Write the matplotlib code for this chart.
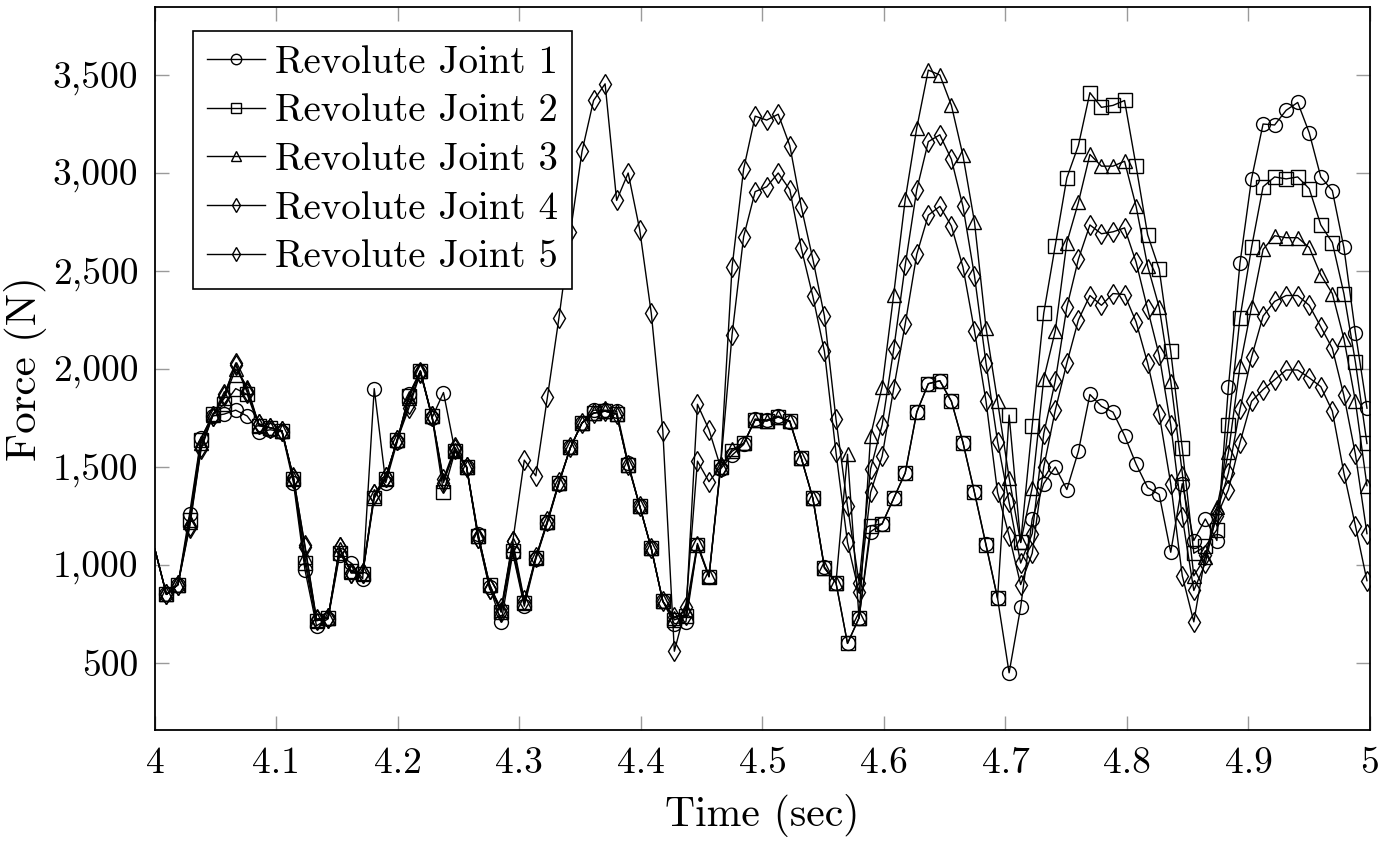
import numpy as np
import matplotlib
matplotlib.use("Agg")
import matplotlib.pyplot as plt

plt.rcParams["font.family"] = "serif"
plt.rcParams["font.serif"] = ["cmr10"]
plt.rcParams["axes.formatter.use_mathtext"] = True

# sample times (s), solver output every 0.0095 s
time = np.round(4.0 + 0.0095 * np.arange(106), 4)

# joint reaction forces (N)
joint1 = [1080, 850, 900, 1260, 1650, 1760, 1770, 1790, 1760, 1680,
          1690, 1680, 1420, 975, 690, 725, 1050, 1010, 930, 1900,
          1420, 1630, 1870, 1990, 1750, 1880, 1580, 1500, 1160, 890,
          710, 1060, 790, 1030, 1215, 1415, 1600, 1725, 1790, 1790,
          1785, 1520, 1300, 1085, 815, 700, 710, 1100, 940, 1490,
          1560, 1615, 1745, 1740, 1760, 1730, 1545, 1340, 990, 910,
          600, 730, 1170, 1210, 1340, 1470, 1780, 1925, 1940, 1835,
          1625, 1370, 1105, 830, 450, 785, 1235, 1415, 1500, 1385,
          1580, 1870, 1810, 1780, 1660, 1515, 1395, 1360, 1065, 1415,
          1125, 1235, 1125, 1910, 2540, 2970, 3250, 3245, 3320, 3360,
          3205, 2980, 2910, 2620, 2185, 1800]
joint2 = [1080, 850, 900, 1230, 1640, 1770, 1820, 1900, 1870, 1710,
          1700, 1685, 1440, 1010, 715, 730, 1060, 970, 955, 1340,
          1440, 1640, 1860, 1990, 1760, 1370, 1580, 1500, 1150, 900,
          760, 1070, 805, 1035, 1220, 1420, 1600, 1725, 1775, 1785,
          1770, 1510, 1300, 1085, 815, 720, 740, 1100, 940, 1500,
          1580, 1620, 1740, 1735, 1755, 1735, 1545, 1340, 985, 910,
          600, 730, 1200, 1210, 1340, 1470, 1780, 1925, 1940, 1835,
          1625, 1370, 1100, 830, 1765, 1115, 1710, 2285, 2630, 2975,
          3140, 3410, 3335, 3345, 3370, 3035, 2685, 2510, 2090, 1595,
          1060, 1095, 1180, 1715, 2260, 2620, 2930, 2980, 2970, 2980,
          2920, 2735, 2645, 2385, 2035, 1620]
joint3 = [1080, 850, 900, 1220, 1620, 1765, 1850, 2000, 1910, 1715,
          1700, 1685, 1445, 1040, 720, 730, 1080, 965, 960, 1350,
          1445, 1640, 1850, 1990, 1760, 1430, 1585, 1500, 1150, 900,
          770, 1100, 810, 1040, 1220, 1420, 1600, 1725, 1775, 1785,
          1770, 1510, 1300, 1085, 815, 730, 770, 1110, 945, 1500,
          1590, 1620, 1740, 1735, 1755, 1735, 1545, 1340, 985, 910,
          1565, 730, 1660, 1910, 2380, 2865, 3230, 3525, 3500, 3345,
          3090, 2750, 2210, 1835, 1445, 1115, 1395, 1950, 2195, 2645,
          2850, 3095, 3035, 3035, 3060, 2830, 2525, 2315, 1940, 1470,
          945, 1040, 1295, 1575, 2015, 2315, 2610, 2680, 2670, 2670,
          2620, 2480, 2385, 2155, 1835, 1405]
joint4 = [1080, 850, 900, 1200, 1600, 1760, 1860, 2030, 1890, 1720,
          1700, 1685, 1445, 1100, 725, 730, 1090, 960, 960, 1360,
          1450, 1640, 1820, 1985, 1760, 1440, 1600, 1500, 1140, 880,
          780, 1120, 820, 1040, 1225, 1425, 1600, 1725, 1775, 1785,
          1770, 1510, 1300, 1085, 815, 735, 745, 1820, 1690, 1500,
          2520, 3020, 3290, 3270, 3300, 3140, 2825, 2560, 2270, 1745,
          1300, 910, 1490, 1715, 2100, 2530, 2915, 3160, 3195, 3070,
          2830, 2475, 2030, 1630, 1320, 1010, 1160, 1670, 1940, 2315,
          2560, 2735, 2690, 2700, 2720, 2545, 2305, 2070, 1715, 1245,
          870, 1010, 1270, 1470, 1795, 2060, 2270, 2345, 2375, 2375,
          2325, 2215, 2105, 1865, 1565, 1160]
joint5 = [1080, 850, 900, 1190, 1590, 1760, 1870, 2020, 1880, 1720,
          1700, 1685, 1450, 1090, 720, 730, 1090, 960, 960, 1360,
          1450, 1640, 1800, 1980, 1760, 1420, 1590, 1500, 1140, 880,
          760, 1120, 1535, 1455, 1855, 2260, 2700, 3110, 3370, 3455,
          2860, 3000, 2710, 2285, 1685, 560, 785, 1530, 1425, 1500,
          2175, 2675, 2905, 2930, 3000, 2915, 2615, 2370, 2090, 1575,
          1115, 860, 1370, 1555, 1900, 2230, 2585, 2785, 2830, 2730,
          2520, 2195, 1835, 1370, 1150, 900, 1060, 1500, 1790, 2030,
          2250, 2375, 2325, 2385, 2380, 2240, 2030, 1770, 1415, 945,
          710, 1050, 1250, 1385, 1625, 1835, 1895, 1945, 1995, 1995,
          1955, 1910, 1785, 1470, 1200, 920]

labels = ["Revolute Joint 1", "Revolute Joint 2", "Revolute Joint 3",
          "Revolute Joint 4", "Revolute Joint 5"]
markers = ["o", "s", "^", "d", "d"]

fig = plt.figure(figsize=(13.83, 8.43), dpi=100)
ax = fig.add_axes([0.112, 0.134, 0.8786, 0.8577])

# no marker on the sample sitting on the left edge
for y, lab, m in zip([joint1, joint2, joint3, joint4, joint5], labels, markers):
    ax.plot(time, y, color="black", linewidth=1.0, marker=m,
            markersize=10, markerfacecolor="none", markeredgecolor="black",
            markeredgewidth=1.0, markevery=slice(1, None), label=lab)

ax.set_xlim(4, 5)
ax.set_ylim(158, 3847)

xt = [4, 4.1, 4.2, 4.3, 4.4, 4.5, 4.6, 4.7, 4.8, 4.9, 5]
ax.set_xticks(xt)
ax.set_xticklabels(["4", "4.1", "4.2", "4.3", "4.4", "4.5", "4.6", "4.7",
                    "4.8", "4.9", "5"])
yt = [500, 1000, 1500, 2000, 2500, 3000, 3500]
ax.set_yticks(yt)
ax.set_yticklabels(["500", "1,000", "1,500", "2,000", "2,500", "3,000", "3,500"])

ax.tick_params(direction="in", length=10, width=1, color="#9a9a9a",
               top=True, right=True, labelsize=27, pad=12)
for s in ax.spines.values():
    s.set_linewidth(1.3)

ax.set_xlabel("Time (sec)", fontsize=30, labelpad=10)
ax.set_ylabel("Force (N)", fontsize=31, labelpad=4)

leg = ax.legend(loc="upper left", bbox_to_anchor=(0.031, 0.967),
                borderaxespad=0, fontsize=28, frameon=True, fancybox=False,
                edgecolor="black", framealpha=1, handlelength=1.5,
                handletextpad=0.25, labelspacing=0.33, borderpad=0.36,
                markerscale=0.75)
leg.get_frame().set_linewidth(1.2)

fig.savefig("out.png", dpi=100)
